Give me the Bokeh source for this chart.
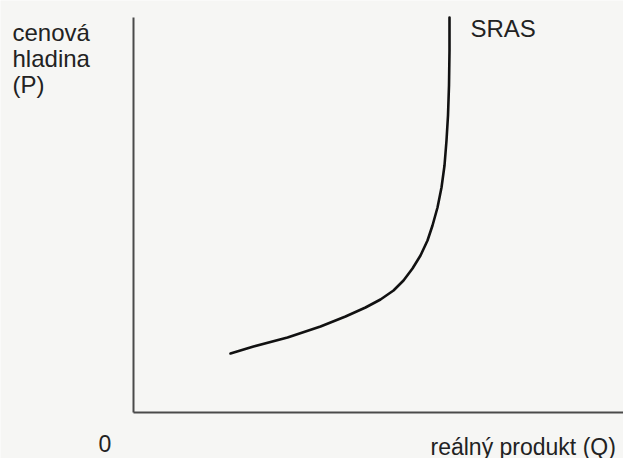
from bokeh.plotting import figure
from bokeh.models import Range1d
from bokeh.core.properties import value
from bokeh.embed import file_html
from bokeh.resources import INLINE

sras_q = [97, 120, 154, 187, 212, 232, 247, 260, 270, 279, 287, 294, 299,
          304, 308, 311, 313, 314.5, 315.5, 316, 316]
sras_p = [58, 65, 74, 85, 95, 104, 112, 121, 131, 143, 156, 171, 186,
          204, 224, 246, 271, 296, 326, 361, 394]

# axis extents
q_axis_end = 490
p_axis_end = 394

y_label_lines = ["cenová", "hladina", "(P)"]
x_label = "reálný produkt (Q)"
origin_label = "0"
curve_label = "SRAS"

W, H = 623, 458
p = figure(width=W, height=H, output_backend="svg", toolbar_location=None,
           x_range=Range1d(-133, 490), y_range=Range1d(-47, 411),
           min_border=0, min_border_left=0, min_border_right=0,
           min_border_top=0, min_border_bottom=0)
p.axis.visible = False
p.grid.visible = False
p.outline_line_color = None
p.background_fill_color = "#f6f6f4"
p.border_fill_color = "#f6f6f4"

# axes
p.segment(x0=[0, 0], y0=[-1, -1], x1=[q_axis_end, 0], y1=[-1, p_axis_end],
          line_color="#4a4a4a", line_width=2)

# curve
p.line(sras_q, sras_p, line_color="#111111", line_width=2.6,
       line_join="round", line_cap="round")

font = value("Liberation Sans")
p.text(x=[-121] * 3, y=[379, 353, 327], text=y_label_lines,
       text_font=font, text_font_size="24px", text_color="#222222",
       text_baseline="alphabetic", text_align="left")
p.text(x=[-35], y=[-32], text=[origin_label], text_font=font,
       text_font_size="23px", text_color="#222222",
       text_baseline="alphabetic", text_align="left")
p.text(x=[297], y=[-35], text=[x_label], text_font=font,
       text_font_size="23px", text_color="#222222",
       text_baseline="alphabetic", text_align="left")
p.text(x=[337], y=[383], text=[curve_label], text_font=font,
       text_font_size="24px", text_color="#222222",
       text_baseline="alphabetic", text_align="left")

open("out.html", "w").write(file_html(p, INLINE))
